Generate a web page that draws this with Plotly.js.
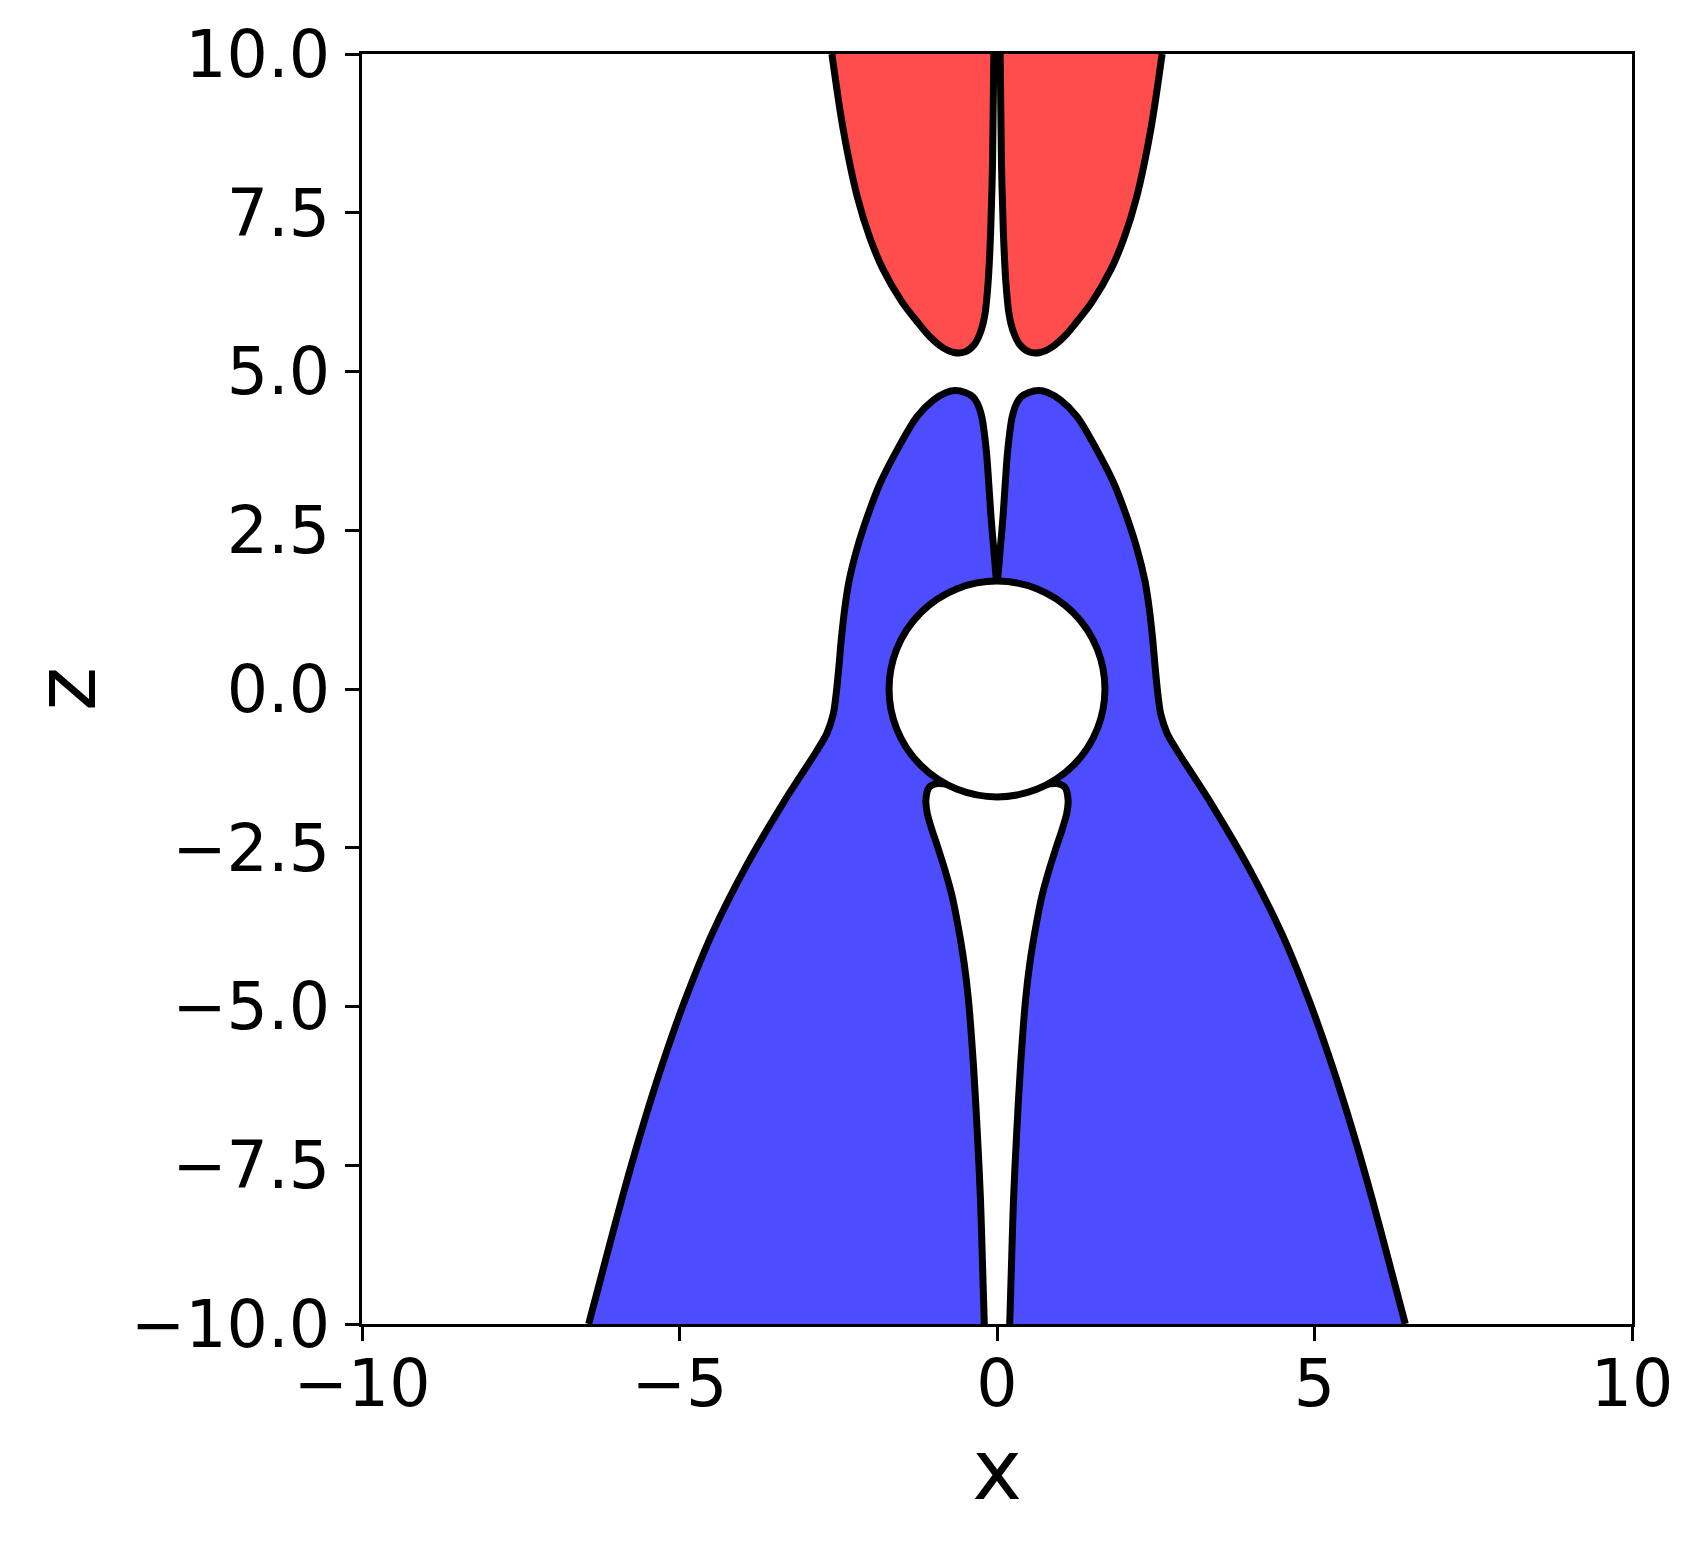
<!DOCTYPE html>
<html>
<head>
<meta charset="utf-8">
<script src="https://cdn.plot.ly/plotly-3.0.1.min.js"></script>
<style>html,body{margin:0;padding:0;background:#fff;}#chart{width:1704px;height:1546px;}</style>
</head>
<body>
<div id="chart"></div>
<script>
// ---- axes ----
const xRange = [-10, 10];
const zRange = [-10, 10];
const xTickVals = [-10, -5, 0, 5, 10];
const xTickText = ["\u221210", "\u22125", "0", "5", "10"];
const zTickVals = [-10, -7.5, -5, -2.5, 0, 2.5, 5, 7.5, 10];
const zTickText = ["\u221210.0", "\u22127.5", "\u22125.0", "\u22122.5", "0.0", "2.5", "5.0", "7.5", "10.0"];

// ---- left half of the contour boundaries (figure is mirror-symmetric about x = 0) ----
// blue region: outer boundary from bottom edge up to the lobe peak, then the inner gap down to the sphere top
const blueLeftX = [-6.43, -6.19, -5.91, -5.61, -5.28, -4.91, -4.48, -3.95, -3.37, -2.83, -2.68, -2.58, -2.53, -2.49, -2.45, -2.40, -2.33, -2.21, -2.04, -1.84, -1.57, -1.26, -1.00, -0.80, -0.66, -0.50, -0.38, -0.31, -0.24, -0.17, -0.13, -0.095, -0.05, 0.0];
const blueLeftZ = [-10.0, -9.09, -8.04, -6.99, -5.94, -4.89, -3.84, -2.79, -1.80, -0.96, -0.70, -0.40, -0.05, 0.35, 0.80, 1.25, 1.70, 2.19, 2.72, 3.24, 3.77, 4.29, 4.55, 4.67, 4.70, 4.67, 4.60, 4.50, 4.29, 3.77, 3.24, 2.72, 2.19, 1.70];

// white tongue below the sphere: from the sphere contact down to the bottom edge
const tongueLeftX = [-0.75, -0.95, -1.07, -1.12, -1.10, -1.03, -0.93, -0.82, -0.71, -0.61, -0.52, -0.45, -0.37, -0.31, -0.26, -0.23, -0.20];
const tongueLeftZ = [-1.50, -1.49, -1.55, -1.75, -1.95, -2.20, -2.50, -2.85, -3.25, -3.75, -4.30, -4.89, -5.94, -6.99, -8.04, -9.00, -10.0];

// red region: outer boundary from the top edge down to the lobe bottom, then inner boundary back up
const redLeftX = [-2.60, -2.42, -2.20, -2.00, -1.80, -1.50, -1.27, -1.06, -0.86, -0.68, -0.50, -0.36, -0.26, -0.19, -0.14, -0.10, -0.07, -0.05];
const redLeftZ = [10.0, 8.80, 7.75, 7.10, 6.62, 6.10, 5.80, 5.55, 5.38, 5.30, 5.31, 5.42, 5.62, 5.90, 6.40, 7.20, 8.30, 10.0];

// sphere
const sphereRadius = 1.7;

// ---- build paths ----
const mirror = a => a.map(v => -v);
const rev = a => a.slice().reverse();
const zLowOut = zRange[0] - 1;   // fill closes outside the plot (clipped)
const zHighOut = zRange[1] + 1;

const blueLineX = blueLeftX.concat(rev(mirror(blueLeftX)).slice(1));
const blueLineZ = blueLeftZ.concat(rev(blueLeftZ).slice(1));
const tongueRightUpX = rev(mirror(tongueLeftX));
const tongueRightUpZ = rev(tongueLeftZ);
const blueFillX = blueLineX.concat([blueLineX[blueLineX.length - 1], tongueRightUpX[0]], tongueRightUpX, tongueLeftX, [tongueLeftX[tongueLeftX.length - 1], blueLineX[0]]);
const blueFillZ = blueLineZ.concat([zLowOut, zLowOut], tongueRightUpZ, tongueLeftZ, [zLowOut, zLowOut]);

const tongueLineX = rev(tongueLeftX).concat(mirror(tongueLeftX));
const tongueLineZ = rev(tongueLeftZ).concat(tongueLeftZ);

const redRightX = rev(mirror(redLeftX));
const redRightZ = rev(redLeftZ);
const redFillX = redLeftX.concat([redLeftX[redLeftX.length - 1], redRightX[0]], redRightX, [redRightX[redRightX.length - 1], redLeftX[0]]);
const redFillZ = redLeftZ.concat([zHighOut, zHighOut], redRightZ, [zHighOut, zHighOut]);
const redLineX = redLeftX.concat([null], redRightX);
const redLineZ = redLeftZ.concat([null], redRightZ);

const LW = 7;
const SM = 0.9;
const traces = [
  {x: blueFillX, y: blueFillZ, type: 'scatter', mode: 'lines', fill: 'toself',
   fillcolor: 'rgb(77,77,255)', line: {width: 0, color: 'rgba(0,0,0,0)', shape: 'spline', smoothing: SM}, hoverinfo: 'skip', showlegend: false},
  {x: redFillX, y: redFillZ, type: 'scatter', mode: 'lines', fill: 'toself',
   fillcolor: 'rgb(255,77,77)', line: {width: 0, color: 'rgba(0,0,0,0)', shape: 'spline', smoothing: SM}, hoverinfo: 'skip', showlegend: false},
  {x: blueLineX, y: blueLineZ, type: 'scatter', mode: 'lines', line: {width: LW, color: 'black', shape: 'spline', smoothing: SM}, showlegend: false},
  {x: tongueLineX, y: tongueLineZ, type: 'scatter', mode: 'lines', line: {width: LW, color: 'black', shape: 'spline', smoothing: SM}, showlegend: false},
  {x: redLineX, y: redLineZ, type: 'scatter', mode: 'lines', line: {width: LW, color: 'black', shape: 'spline', smoothing: SM}, connectgaps: false, showlegend: false}
];

const axisCommon = {
  showgrid: false, zeroline: false, showline: true, mirror: true,
  linecolor: 'black', linewidth: 3,
  ticks: 'outside', ticklen: 14, tickwidth: 3, tickcolor: 'black',
  tickfont: {family: 'DejaVu Sans', size: 65, color: 'black'},
  tickmode: 'array'
};

const layout = {
  width: 1704, height: 1546,
  margin: {l: 362, r: 72, t: 54, b: 222, pad: 0},
  paper_bgcolor: 'white', plot_bgcolor: 'white',
  font: {family: 'DejaVu Sans', color: 'black'},
  xaxis: Object.assign({}, axisCommon, {
    range: xRange, tickvals: xTickVals, ticktext: xTickText,
    ticklabelstandoff: -13,
    title: {text: 'x', font: {family: 'DejaVu Sans', size: 84, color: 'black'}, standoff: 14}
  }),
  yaxis: Object.assign({}, axisCommon, {
    range: zRange, tickvals: zTickVals, ticktext: zTickText,
    ticklabelstandoff: 2,
    title: {text: 'z', font: {family: 'DejaVu Sans', size: 84, color: 'black'}, standoff: 8}
  }),
  shapes: [
    {type: 'circle', xref: 'x', yref: 'y', x0: -sphereRadius, x1: sphereRadius, y0: -sphereRadius, y1: sphereRadius,
     fillcolor: 'white', line: {color: 'black', width: 7}, layer: 'above'}
  ],
  showlegend: false
};

Plotly.newPlot('chart', traces, layout, {staticPlot: true, displayModeBar: false});
</script>
</body>
</html>
